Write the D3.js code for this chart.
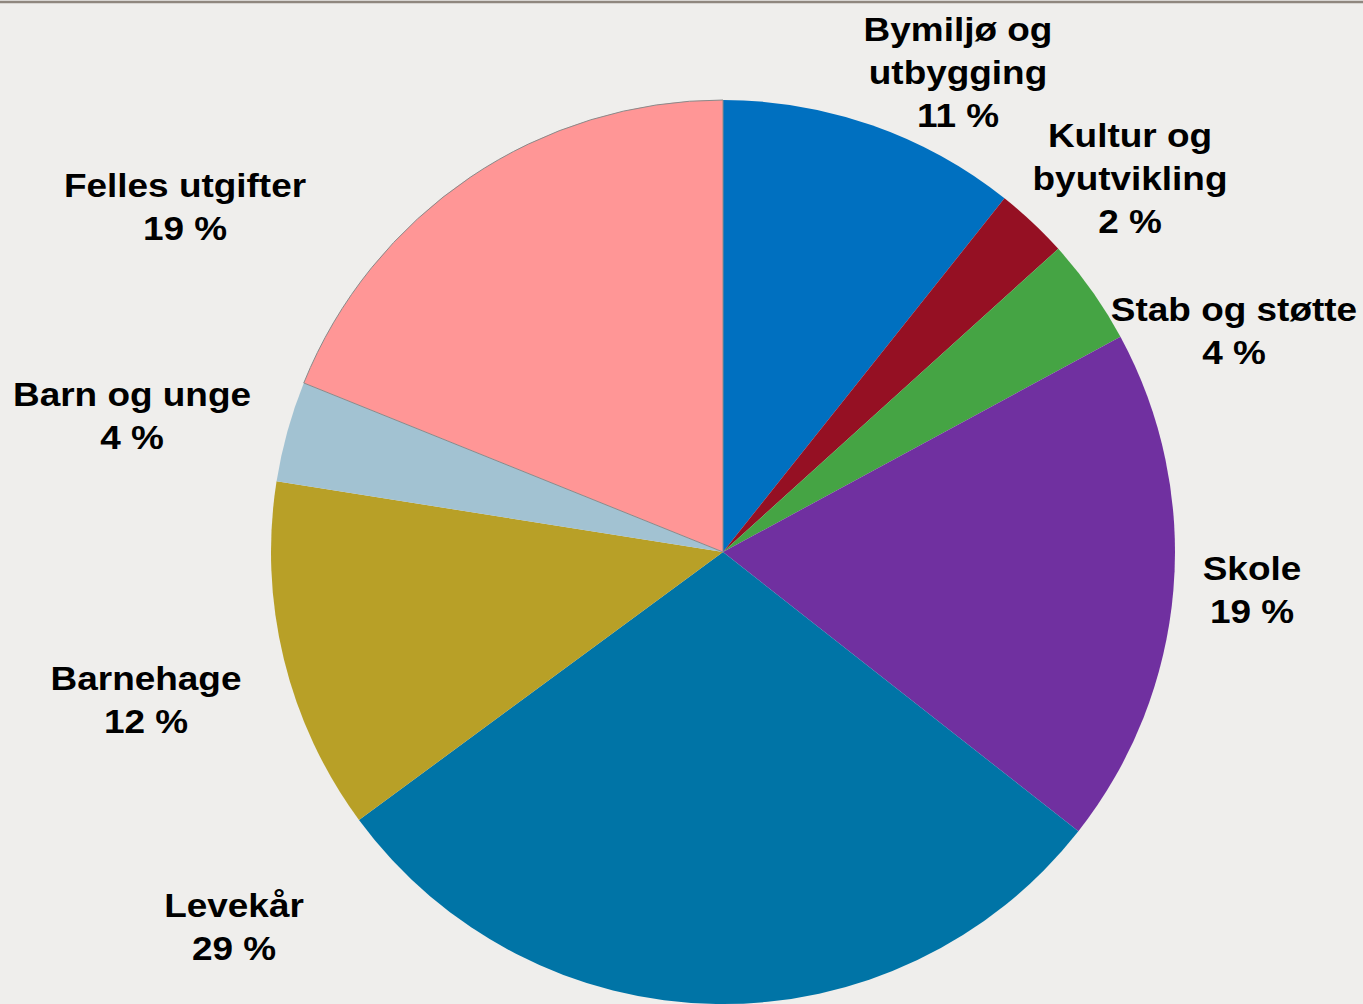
<!DOCTYPE html>
<html>
<head>
<meta charset="utf-8">
<script src="https://cdn.jsdelivr.net/npm/d3@7"></script>
<style>
  html, body { margin: 0; padding: 0; background: #EFEEEC; }
  svg { display: block; }
</style>
</head>
<body>
<script>
// Data
const categories = ["Bymiljø og utbygging", "Kultur og byutvikling", "Stab og støtte", "Skole", "Levekår", "Barnehage", "Barn og unge", "Felles utgifter"];
const values = [10.7, 2.6, 3.8, 18.5, 29.3, 12.6, 3.6, 18.9];
const percentLabels = ["11 %", "2 %", "4 %", "19 %", "29 %", "12 %", "4 %", "19 %"];
const labelLines = [["Bymiljø og", "utbygging"], ["Kultur og", "byutvikling"], ["Stab og støtte"], ["Skole"], ["Levekår"], ["Barnehage"], ["Barn og unge"], ["Felles utgifter"]];
const colors = ["#0070C0", "#951023", "#45A444", "#7030A0", "#0074A6", "#B8A027", "#A2C2D2", "#FF9696"];

// Layout (label anchor: center x, first baseline y)
const labelPos = [[958, 41], [1130, 147], [1234, 321], [1252, 580], [234, 917], [146, 690], [132, 406], [185, 197]];

const W = 1363, H = 1004;
const cx = 723, cy = 552, R = 452;
const lineH = 43;

const svg = d3.select("body").append("svg").attr("width", W).attr("height", H);
svg.append("rect").attr("width", W).attr("height", H).attr("fill", "#EFEEEC");
svg.append("line").attr("x1", 0).attr("x2", W).attr("y1", 2).attr("y2", 2)
  .attr("stroke", "#8F877F").attr("stroke-width", 2.5);

const pie = d3.pie().sort(null).value(d => d);
const arc = d3.arc().innerRadius(0).outerRadius(R);
const arcs = pie(values);

const g = svg.append("g").attr("transform", `translate(${cx},${cy})`);
g.selectAll("path").data(arcs).join("path")
  .attr("d", arc)
  .attr("fill", (d, i) => colors[i]);
// outline of pink slice on top
g.append("path").attr("d", arc(arcs[7])).attr("fill", "none").attr("stroke", "#8A8A8A").attr("stroke-width", 1);

const lg = svg.append("g");
categories.forEach((c, i) => {
  const [x, y] = labelPos[i];
  const t = lg.append("g").attr("transform", `translate(${x},${y}) scale(1.12,1)`);
  const lines = labelLines[i].concat([percentLabels[i]]);
  lines.forEach((ln, j) => {
    t.append("text")
      .attr("x", 0).attr("y", j * lineH)
      .attr("text-anchor", "middle")
      .attr("font-family", "Liberation Sans, Arial, sans-serif")
      .attr("font-weight", "bold")
      .attr("font-size", 33)
      .attr("fill", "#000")
      .text(ln);
  });
});
</script>
</body>
</html>
